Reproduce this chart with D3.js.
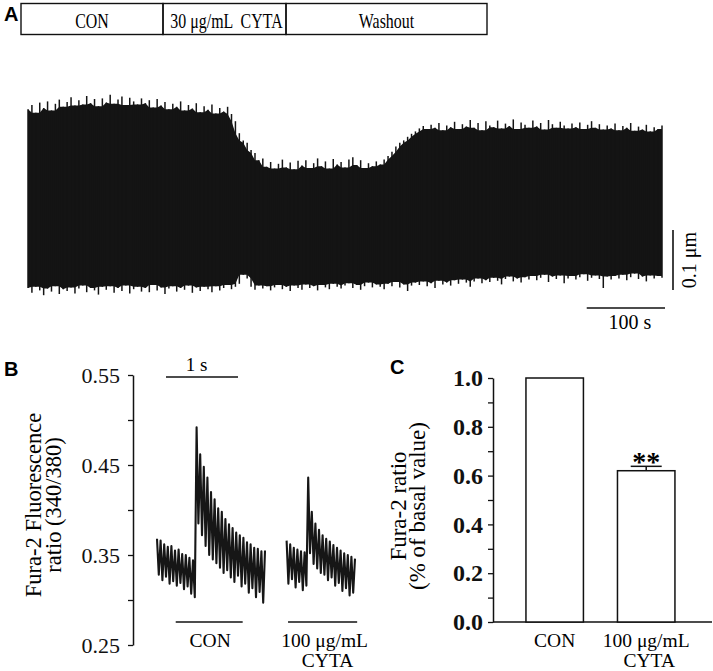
<!DOCTYPE html>
<html>
<head>
<meta charset="utf-8">
<script src="https://cdn.jsdelivr.net/npm/d3@7/dist/d3.min.js"></script>
<style>
  body { margin: 0; background: #fff; }
  svg { display: block; font-family: "Liberation Serif", "Times New Roman", serif; }
  .panel { font-family: "Liberation Sans", Arial, sans-serif; font-weight: bold; font-size: 20px; }
</style>
</head>
<body>
<script>
(function(){

    //---- data ----

    //protocol bar over panel A
    var protocolLabels = ["CON", "30 μg/mL  CYTA", "Washout"];

    //panel A: sarcomere length envelope (μm), one sample every 5 s
    var sampleStepA = 5;
    var upperA = [
        1.768, 1.775, 1.762, 1.779, 1.770, 1.781, 1.766, 1.777, 1.784, 1.772,
        1.780, 1.788, 1.774, 1.783, 1.776, 1.790, 1.778, 1.785, 1.773, 1.786,
        1.779, 1.792, 1.777, 1.784, 1.789, 1.775, 1.787, 1.781, 1.776, 1.786,
        1.778, 1.783, 1.771, 1.785, 1.774, 1.780, 1.768, 1.777, 1.772, 1.781,
        1.766, 1.775, 1.769, 1.778, 1.763, 1.773, 1.767, 1.776, 1.761, 1.770,
        1.764, 1.772, 1.760, 1.748, 1.728, 1.716, 1.712, 1.700, 1.695, 1.683,
        1.686, 1.672, 1.680, 1.669, 1.677, 1.684, 1.671, 1.679, 1.668, 1.682,
        1.674, 1.683, 1.670, 1.678, 1.686, 1.673, 1.681, 1.669, 1.685, 1.676,
        1.680, 1.671, 1.684, 1.688, 1.675, 1.683, 1.670, 1.678, 1.673, 1.681,
        1.676, 1.684, 1.690, 1.697, 1.706, 1.712, 1.716, 1.722, 1.727, 1.731,
        1.736, 1.740, 1.735, 1.742, 1.737, 1.745, 1.733, 1.741, 1.738, 1.747,
        1.735, 1.743, 1.739, 1.750, 1.737, 1.745, 1.733, 1.748, 1.741, 1.738,
        1.749, 1.736, 1.744, 1.740, 1.751, 1.735, 1.746, 1.742, 1.737, 1.749,
        1.739, 1.745, 1.734, 1.750, 1.743, 1.737, 1.747, 1.741, 1.736, 1.744,
        1.738, 1.746, 1.735, 1.742, 1.748, 1.737, 1.743, 1.734, 1.741, 1.736,
        1.744, 1.733, 1.740, 1.737, 1.745, 1.732, 1.739, 1.734, 1.742, 1.731,
        1.738, 1.735, 1.741
    ];
    var lowerA = [
        1.470, 1.462, 1.472, 1.466, 1.458, 1.469, 1.464, 1.473, 1.460, 1.468,
        1.465, 1.471, 1.461, 1.469, 1.474, 1.463, 1.470, 1.466, 1.459, 1.472,
        1.467, 1.473, 1.462, 1.470, 1.465, 1.474, 1.461, 1.468, 1.472, 1.464,
        1.470, 1.463, 1.475, 1.466, 1.471, 1.460, 1.469, 1.473, 1.464, 1.470,
        1.467, 1.474, 1.462, 1.471, 1.465, 1.472, 1.468, 1.463, 1.473, 1.466,
        1.470, 1.475, 1.468, 1.472, 1.477, 1.492, 1.486, 1.472, 1.467, 1.474,
        1.469, 1.473, 1.466, 1.471, 1.475, 1.468, 1.472, 1.465, 1.474, 1.470,
        1.467, 1.476, 1.470, 1.473, 1.466, 1.475, 1.471, 1.468, 1.477, 1.472,
        1.469, 1.474, 1.478, 1.470, 1.475, 1.467, 1.473, 1.479, 1.471, 1.476,
        1.472, 1.468, 1.477, 1.473, 1.480, 1.471, 1.476, 1.465, 1.474, 1.479,
        1.475, 1.481, 1.473, 1.478, 1.470, 1.482, 1.476, 1.479, 1.474, 1.483,
        1.477, 1.484, 1.479, 1.472, 1.481, 1.486, 1.478, 1.483, 1.480, 1.487,
        1.482, 1.476, 1.485, 1.489, 1.481, 1.486, 1.479, 1.488, 1.484, 1.490,
        1.483, 1.487, 1.492, 1.480, 1.489, 1.485, 1.491, 1.478, 1.486, 1.490,
        1.484, 1.488, 1.493, 1.482, 1.487, 1.491, 1.485, 1.470, 1.489, 1.484,
        1.490, 1.486, 1.492, 1.483, 1.488, 1.494, 1.485, 1.489, 1.481, 1.491,
        1.486, 1.490, 1.487
    ];

    //panel B: Fura-2 ratio traces, one sample every 25 ms
    var sampleStepB = 0.025;
    var conStartB = 0, cytaStartB = 1.8; //s, where each trace is placed
    var conTraceB = [
        0.368, 0.328, 0.366, 0.322, 0.362, 0.326, 0.359, 0.318, 0.360, 0.321,
        0.355, 0.316, 0.356, 0.319, 0.351, 0.312, 0.350, 0.315, 0.347, 0.307,
        0.344, 0.303, 0.492, 0.385, 0.462, 0.372, 0.448, 0.360, 0.436, 0.350,
        0.420, 0.345, 0.412, 0.341, 0.402, 0.336, 0.398, 0.330, 0.390, 0.333,
        0.384, 0.325, 0.380, 0.320, 0.375, 0.327, 0.372, 0.315, 0.369, 0.318,
        0.364, 0.308, 0.362, 0.313, 0.358, 0.303, 0.357, 0.309, 0.354, 0.297,
        0.355
    ];
    var cytaTraceB = [
        0.366, 0.318, 0.362, 0.323, 0.358, 0.314, 0.356, 0.320, 0.354, 0.311,
        0.353, 0.316, 0.436, 0.352, 0.398, 0.340, 0.385, 0.335, 0.378, 0.330,
        0.372, 0.328, 0.368, 0.322, 0.365, 0.325, 0.361, 0.316, 0.358, 0.319,
        0.355, 0.310, 0.352, 0.313, 0.350, 0.305, 0.348, 0.308, 0.346
    ];
    var ticksB = [0.25, 0.30, 0.35, 0.40, 0.45, 0.50, 0.55];
    var labelTicksB = [0.25, 0.35, 0.45, 0.55];
    var conMarkB = [0.26, 1.19], cytaMarkB = [1.82, 2.78]; //s, bars under traces

    //panel C: normalised Fura-2 ratio
    var categoriesC = ["CON", "100 μg/mL\nCYTA"];
    var meansC = [1.0, 0.62];
    var semC = [0, 0.018];
    var ticksC = [0, 0.1, 0.2, 0.3, 0.4, 0.5, 0.6, 0.7, 0.8, 0.9, 1.0];

    //---- drawing ----
    var width = 713, height = 671;

    var svg = d3.select("body")
        .append("svg")
        .attr("width", width)
        .attr("height", height);

    //panel letters
    svg.append("text").attr("class", "panel").attr("x", 4).attr("y", 21).text("A");
    svg.append("text").attr("class", "panel").attr("x", 4).attr("y", 376).text("B");
    svg.append("text").attr("class", "panel").attr("x", 390).attr("y", 374).text("C");

    drawProtocol();
    drawPanelA();
    drawPanelB();
    drawPanelC();

function drawProtocol(){
    var edges = [21, 163, 286, 487];
    var bar = svg.append("g");
    protocolLabels.forEach(function(label, i){
        bar.append("rect")
            .attr("x", edges[i])
            .attr("y", 3.5)
            .attr("width", edges[i + 1] - edges[i])
            .attr("height", 31)
            .attr("fill", "none")
            .attr("stroke", "#111")
            .attr("stroke-width", 1.4);
        bar.append("text")
            .attr("transform", "translate(" + ((edges[i] + edges[i + 1]) / 2 + (i == 1 ? 2 : 0)) + ",27.5) scale(0.74,1)")
            .attr("text-anchor", "middle")
            .attr("font-size", 21.5)
            .style("white-space", "pre")
            .text(label);
    });
};

function drawPanelA(){
    var xA = d3.scaleLinear()
        .domain([0, (upperA.length - 1) * sampleStepA])
        .range([28, 662]);
    var yA = d3.scaleLinear()
        .domain([1.45, 1.80])
        .range([300, 90]);

    //solid body of the trace: the inner edge of the local excursions
    var n = upperA.length;
    var bodyTop = upperA.map(function(d, i){
        return d3.min(upperA.slice(Math.max(0, i - 1), Math.min(n, i + 2)));
    });
    var bodyBottom = lowerA.map(function(d, i){
        return d3.max(lowerA.slice(Math.max(0, i - 1), Math.min(n, i + 2)));
    });

    var area = d3.area()
        .x(function(d, i){ return xA(i * sampleStepA); })
        .y0(function(d, i){ return yA(bodyBottom[i]); })
        .y1(function(d){ return yA(d); });

    svg.append("path")
        .datum(bodyTop)
        .attr("d", area)
        .attr("fill", "#141414");

    //each excursion as a thin vertical stroke
    svg.append("g")
        .selectAll("line")
        .data(upperA)
        .enter()
        .append("line")
        .attr("x1", function(d, i){ return xA(i * sampleStepA); })
        .attr("x2", function(d, i){ return xA(i * sampleStepA); })
        .attr("y1", function(d){ return yA(d); })
        .attr("y2", function(d, i){ return yA(lowerA[i]); })
        .attr("stroke", "#141414")
        .attr("stroke-width", 1.5);

    //scale bars: 0.1 μm and 100 s
    var vLen = yA(1.45) - yA(1.55);
    svg.append("line")
        .attr("x1", 673).attr("x2", 673)
        .attr("y1", 290).attr("y2", 290 - vLen)
        .attr("stroke", "#111").attr("stroke-width", 1.6);
    svg.append("text")
        .attr("transform", "translate(696," + (290 - vLen / 2) + ") rotate(-90)")
        .attr("text-anchor", "middle")
        .attr("font-size", 20)
        .text("0.1 μm");

    var hLen = xA(100) - xA(0);
    svg.append("line")
        .attr("x1", 665 - hLen).attr("x2", 665)
        .attr("y1", 308).attr("y2", 308)
        .attr("stroke", "#111").attr("stroke-width", 1.6);
    svg.append("text")
        .attr("x", 665 - hLen / 2 + 4).attr("y", 329)
        .attr("text-anchor", "middle")
        .attr("font-size", 20)
        .text("100 s");
};

function drawPanelB(){
    var xB = d3.scaleLinear().domain([0, 1]).range([157, 229]); //1 s = 72 px
    var yB = d3.scaleLinear().domain([0.25, 0.55]).range([645, 375]);

    var axis = d3.axisLeft(yB)
        .tickValues(ticksB)
        .tickSize(5)
        .tickSizeOuter(0)
        .tickPadding(8)
        .tickFormat(function(d){
            return labelTicksB.some(function(t){ return Math.abs(t - d) < 1e-6; }) ? d3.format(".2f")(d) : "";
        });

    var g = svg.append("g")
        .attr("transform", "translate(133,0)")
        .call(axis);
    g.select(".domain").attr("stroke", "#111").attr("stroke-width", 1.5);
    g.selectAll(".tick line").attr("stroke", "#111").attr("stroke-width", 1.3);
    g.selectAll(".tick text")
        .attr("fill", "#111")
        .style("font-family", "'Liberation Serif', 'Times New Roman', serif")
        .style("font-size", "22px");

    //axis title
    var title = svg.append("g")
        .attr("transform", "translate(0,505) rotate(-90)")
        .attr("text-anchor", "middle")
        .attr("font-size", 22.5);
    title.append("text").attr("x", 0).attr("y", 41).text("Fura-2 Fluorescence");
    title.append("text").attr("x", 0).attr("y", 61).text("ratio (340/380)");

    //traces
    var line = function(start){
        return d3.line()
            .x(function(d, i){ return xB(start + i * sampleStepB); })
            .y(function(d){ return yB(d); });
    };
    [[conTraceB, conStartB], [cytaTraceB, cytaStartB]].forEach(function(tr){
        svg.append("path")
            .datum(tr[0])
            .attr("d", line(tr[1]))
            .attr("fill", "none")
            .attr("stroke", "#161616")
            .attr("stroke-width", 2.1)
            .attr("stroke-linejoin", "round");
    });

    //1 s time bar
    svg.append("line")
        .attr("x1", xB(0.125)).attr("x2", xB(1.125))
        .attr("y1", 377).attr("y2", 377)
        .attr("stroke", "#111").attr("stroke-width", 1.4);
    svg.append("text")
        .attr("x", xB(0.55)).attr("y", 371)
        .attr("text-anchor", "middle")
        .attr("font-size", 19)
        .text("1 s");

    //condition bars and labels under traces
    [conMarkB, cytaMarkB].forEach(function(m){
        svg.append("line")
            .attr("x1", xB(m[0])).attr("x2", xB(m[1]))
            .attr("y1", 622).attr("y2", 622)
            .attr("stroke", "#111").attr("stroke-width", 1.4);
    });
    svg.append("text")
        .attr("x", xB((conMarkB[0] + conMarkB[1]) / 2) + 1).attr("y", 647)
        .attr("text-anchor", "middle").attr("font-size", 19.5)
        .text("CON");
    var cx = xB((cytaMarkB[0] + cytaMarkB[1]) / 2) + 2;
    svg.append("text")
        .attr("x", cx).attr("y", 647)
        .attr("text-anchor", "middle").attr("font-size", 19.5)
        .text("100 μg/mL");
    svg.append("text")
        .attr("x", cx + 3).attr("y", 667)
        .attr("text-anchor", "middle").attr("font-size", 19.5)
        .text("CYTA");
};

function drawPanelC(){
    var yC = d3.scaleLinear().domain([0, 1]).range([622, 378]);
    var xC = d3.scaleBand()
        .domain(categoriesC)
        .range([498.5, 702.4])
        .paddingInner(0.372)
        .paddingOuter(0.3);

    var axis = d3.axisLeft(yC)
        .tickValues(ticksC)
        .tickSize(5)
        .tickSizeOuter(0)
        .tickPadding(5)
        .tickFormat(function(d){
            return Math.round(d * 10) % 2 == 0 ? d3.format(".1f")(d) : "";
        });

    var g = svg.append("g")
        .attr("transform", "translate(493,0)")
        .call(axis);
    g.select(".domain").attr("stroke", "#111").attr("stroke-width", 1.5);
    g.selectAll(".tick line").attr("stroke", "#111").attr("stroke-width", 1.3);
    g.selectAll(".tick text")
        .attr("fill", "#111")
        .style("font-family", "'Liberation Serif', 'Times New Roman', serif")
        .style("font-size", "24px")
        .style("font-weight", "bold");

    //x baseline
    svg.append("line")
        .attr("x1", 493).attr("x2", 712)
        .attr("y1", yC(0)).attr("y2", yC(0))
        .attr("stroke", "#111").attr("stroke-width", 1.5);

    //axis title
    var title = svg.append("g")
        .attr("transform", "translate(0,506) rotate(-90)")
        .attr("text-anchor", "middle")
        .attr("font-size", 23);
    title.append("text").attr("x", 0).attr("y", 406).text("Fura-2 ratio");
    title.append("text").attr("x", 0).attr("y", 425).text("(% of basal value)");

    //bars
    svg.selectAll(".barC")
        .data(meansC)
        .enter()
        .append("rect")
        .attr("class", "barC")
        .attr("x", function(d, i){ return xC(categoriesC[i]); })
        .attr("y", function(d){ return yC(d); })
        .attr("width", xC.bandwidth())
        .attr("height", function(d){ return yC(0) - yC(d); })
        .attr("fill", "#fff")
        .attr("stroke", "#111")
        .attr("stroke-width", 1.5);

    //error bars and significance
    meansC.forEach(function(m, i){
        if (semC[i] <= 0) return;
        var c = xC(categoriesC[i]) + xC.bandwidth() / 2;
        svg.append("line")
            .attr("x1", c).attr("x2", c)
            .attr("y1", yC(m)).attr("y2", yC(m + semC[i]))
            .attr("stroke", "#111").attr("stroke-width", 1.5);
        svg.append("line")
            .attr("x1", c - 15.5).attr("x2", c + 15.5)
            .attr("y1", yC(m + semC[i])).attr("y2", yC(m + semC[i]))
            .attr("stroke", "#111").attr("stroke-width", 1.5);
        svg.append("text")
            .attr("x", c).attr("y", yC(m + semC[i]) + 5)
            .attr("text-anchor", "middle")
            .attr("font-size", 28)
            .attr("font-weight", "bold")
            .text("**");
    });

    //category labels
    categoriesC.forEach(function(cat, i){
        var c = xC(cat) + xC.bandwidth() / 2;
        cat.split("\n").forEach(function(part, j){
            svg.append("text")
                .attr("x", c + j * 3).attr("y", 647 + j * 20)
                .attr("text-anchor", "middle")
                .attr("font-size", 19.5)
                .text(part);
        });
    });
};

})();
</script>
</body>
</html>
